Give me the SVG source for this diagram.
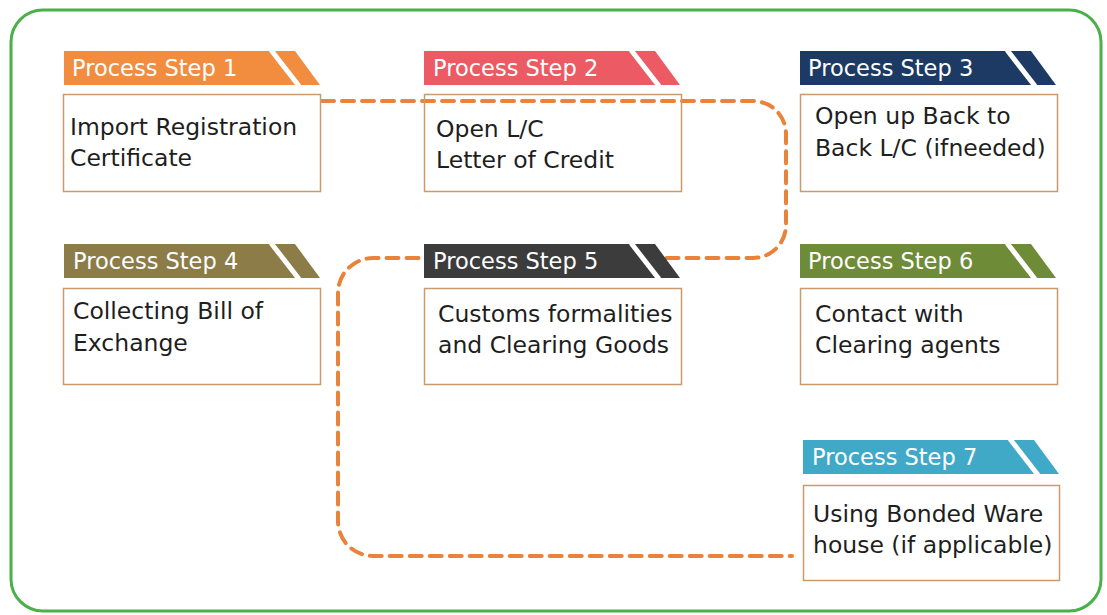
<svg xmlns="http://www.w3.org/2000/svg" width="1107" height="615" viewBox="0 0 1107 615">
<style>
.frame{fill:none;stroke:#4cb04a;stroke-width:3}
.box{fill:none;stroke:#c99b6c;stroke-width:1.5}
.stripe{stroke:#ffffff;stroke-width:5}
.ht{font-family:"DejaVu Sans","Liberation Sans",sans-serif;font-size:22.5px;fill:#ffffff}
.bt{font-family:"DejaVu Sans","Liberation Sans",sans-serif;font-size:23.5px;fill:#1e1e1e}
.conn{fill:none;stroke:#e9823a;stroke-width:4;stroke-dasharray:12 8;stroke-linecap:round}
</style>
<defs>
<g id="hdr">
<polygon points="0,0 231,0 256,34 0,34"/>
<line class="stripe" x1="207" y1="-1" x2="235" y2="35"/>
</g>
</defs>
<rect class="frame" x="11" y="10" width="1090" height="601" rx="32"/>
<g id="connectors">
<path class="conn" d="M 322 101 H 753 A 33 33 0 0 1 786 134 V 225 A 33 33 0 0 1 753 258 H 373 A 35 35 0 0 0 338 293 V 521 A 35 35 0 0 0 373 556 H 792"/>
</g>
<g id="step1">
<use href="#hdr" x="64" y="51" fill="#f28d3f"/>
<text class="ht" x="72" y="76">Process Step 1</text>
<rect class="box" x="63.5" y="94.5" width="257" height="97"/>
<text class="bt" x="70" y="135">Import Registration</text>
<text class="bt" x="70" y="166">Certificate</text>
</g>
<g id="step2">
<use href="#hdr" x="424" y="51" fill="#ec5a63"/>
<text class="ht" x="433" y="76">Process Step 2</text>
<rect class="box" x="424.5" y="94.5" width="257" height="97"/>
<text class="bt" x="436" y="137">Open L/C</text>
<text class="bt" x="436" y="168">Letter of Credit</text>
</g>
<g id="step3">
<use href="#hdr" x="800" y="51" fill="#1c3a63"/>
<text class="ht" x="808" y="76">Process Step 3</text>
<rect class="box" x="800.5" y="94.5" width="257" height="97"/>
<text class="bt" x="815" y="124">Open up Back to</text>
<text class="bt" x="815" y="156">Back L/C (ifneeded)</text>
</g>
<g id="step4">
<use href="#hdr" x="64" y="244" fill="#8b7c48"/>
<text class="ht" x="73" y="269">Process Step 4</text>
<rect class="box" x="63.5" y="288.5" width="257" height="96"/>
<text class="bt" x="73" y="319">Collecting Bill of</text>
<text class="bt" x="73" y="351">Exchange</text>
</g>
<g id="step5">
<use href="#hdr" x="424" y="244" fill="#3c3c3c"/>
<text class="ht" x="433" y="269">Process Step 5</text>
<rect class="box" x="424.5" y="288.5" width="257" height="96"/>
<text class="bt" x="438" y="322">Customs formalities</text>
<text class="bt" x="438" y="353">and Clearing Goods</text>
</g>
<g id="step6">
<use href="#hdr" x="800" y="244" fill="#6e8b37"/>
<text class="ht" x="808" y="269">Process Step 6</text>
<rect class="box" x="800.5" y="288.5" width="257" height="96"/>
<text class="bt" x="815" y="322">Contact with</text>
<text class="bt" x="815" y="353">Clearing agents</text>
</g>
<g id="step7">
<use href="#hdr" x="803" y="440" fill="#40a9c8"/>
<text class="ht" x="812" y="465">Process Step 7</text>
<rect class="box" x="803.5" y="485.5" width="256" height="95"/>
<text class="bt" x="813" y="522">Using Bonded Ware</text>
<text class="bt" x="813" y="553">house (if applicable)</text>
</g>
</svg>
